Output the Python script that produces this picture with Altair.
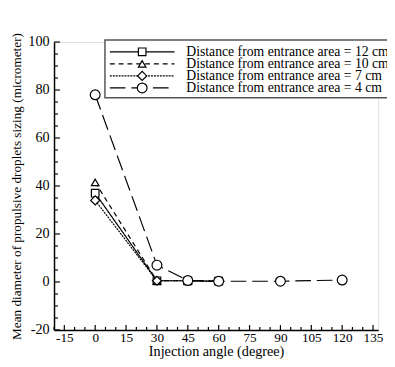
import altair as alt
import pandas as pd

# ---- data ----
series_names = [
    "Distance from entrance area = 12 cm",
    "Distance from entrance area = 10 cm",
    "Distance from entrance area = 7 cm",
    "Distance from entrance area = 4 cm",
]
angles_12 = [0, 30, 45, 60]
diam_12 = [37, 0.5, 0.5, 0.3]
angles_10 = [0, 30, 45, 60]
diam_10 = [41.5, 0.5, 0.5, 0.3]
angles_7 = [0, 30, 45, 60]
diam_7 = [34, 0.5, 0.5, 0.3]
angles_4 = [0, 30, 45, 60, 90, 120]
diam_4 = [78, 7, 0.6, 0.3, 0.3, 0.8]

x_major = [-15, 0, 15, 30, 45, 60, 75, 90, 105, 120, 135]
x_minor = [v for v in range(-20, 138, 5) if v not in x_major]
y_major = [-20, 0, 20, 40, 60, 80, 100]
y_minor = [v for v in range(-20, 101, 5) if v not in y_major]

# ---- style ----
FONT = "Liberation Serif, Times New Roman, Times, serif"
W, H = 331, 294
shapes = ["square", "triangle-up", "diamond", "circle"]
sizes = [60, 60, 85, 100]
dashes = [[1, 0], [5, 4], [2, 1], [16, 6]]

all_x = [angles_12, angles_10, angles_7, angles_4]
all_y = [diam_12, diam_10, diam_7, diam_4]

xscale = alt.Scale(domain=[-20, 137.5], nice=False, zero=False)
yscale = alt.Scale(domain=[-20, 100], nice=False, zero=False)

x_axis = alt.Axis(values=x_major, ticks=False, tickSize=0, labelPadding=1,
                  labelFontSize=13.5, labelFont=FONT, labelColor="black",
                  labelExpr="'' + datum.value",
                  title="Injection angle (degree)", titleFont=FONT,
                  titleFontSize=14.5, titleFontWeight="normal", titleColor="black",
                  titlePadding=1, domainColor="black", domainWidth=1.5,
                  grid=False, labelFlush=False)
y_axis = alt.Axis(values=y_major, ticks=False, tickSize=0, labelPadding=5,
                  labelFontSize=14.5, labelFont=FONT, labelColor="black",
                  labelExpr="'' + datum.value",
                  title="Mean diameter of propulsive droplets sizing (micrometer)",
                  titleFont=FONT, titleFontSize=13.5, titleFontWeight="normal",
                  titleColor="black", titlePadding=4, domainColor="black",
                  domainWidth=1.5, grid=False, labelFlush=False)

X = lambda f: alt.X(f, type="quantitative", scale=xscale, axis=x_axis)
Y = lambda f: alt.Y(f, type="quantitative", scale=yscale, axis=y_axis)

layers = []
for i in range(4):
    df = pd.DataFrame({"angle": all_x[i], "diam": all_y[i]})
    base = alt.Chart(df)
    layers.append(base.mark_line(color="black", strokeWidth=1.2,
                                 strokeDash=dashes[i]).encode(x=X("angle"), y=Y("diam")))
    layers.append(base.mark_point(shape=shapes[i], size=sizes[i], filled=True,
                                  fill="white", stroke="black", strokeWidth=1.2,
                                  opacity=1).encode(x=X("angle"), y=Y("diam")))

# axis ticks (inward)
ymaj = pd.DataFrame({"v": y_major})
ymin = pd.DataFrame({"v": y_minor})
xmaj = pd.DataFrame({"v": x_major})
xmin = pd.DataFrame({"v": x_minor})
layers.append(alt.Chart(ymaj).mark_rule(color="black", strokeWidth=1.2).encode(
    y=Y("v"), x=alt.value(0), x2=alt.value(6)))
layers.append(alt.Chart(ymin).mark_rule(color="black", strokeWidth=1.2).encode(
    y=Y("v"), x=alt.value(0), x2=alt.value(4)))
layers.append(alt.Chart(xmaj).mark_rule(color="black", strokeWidth=1.2).encode(
    x=X("v"), y=alt.value(H), y2=alt.value(H - 5)))
layers.append(alt.Chart(xmin).mark_rule(color="black", strokeWidth=1.2).encode(
    x=X("v"), y=alt.value(H), y2=alt.value(H - 3)))

# legend box
box_x, box_top, box_bot = 52, -2, 57
row0, row_step = 10, 12.3
layers.append(alt.Chart(pd.DataFrame({"k": [0]})).mark_rect(
    fill="white", stroke="#555555", strokeWidth=1.5).encode(
    x=alt.value(box_x), x2=alt.value(W + 40), y=alt.value(box_top), y2=alt.value(box_bot)))
for i, name in enumerate(series_names):
    yy = row0 + i * row_step
    ld = pd.DataFrame({"name": [name]})
    layers.append(alt.Chart(ld).mark_rule(color="black", strokeWidth=1.2,
                                          strokeDash=dashes[i]).encode(
        x=alt.value(57), x2=alt.value(123), y=alt.value(yy)))
    layers.append(alt.Chart(ld).mark_point(shape=shapes[i], size=sizes[i], filled=True,
                                           fill="white", stroke="black", strokeWidth=1.2,
                                           opacity=1).encode(
        x=alt.value(90), y=alt.value(yy)))
    layers.append(alt.Chart(ld).mark_text(align="left", baseline="middle", font=FONT,
                                          fontSize=14, color="black").encode(
        x=alt.value(135), y=alt.value(yy), text="name:N"))

chart = alt.layer(*layers).properties(
    width=W, height=H,
    autosize=alt.AutoSizeParams(type="none"),
    padding={"left": 47, "top": 31, "right": 9, "bottom": 30},
).configure_view(stroke=None).configure(font=FONT)

chart.save("out.html", embed_options={"renderer": "svg", "actions": False})
